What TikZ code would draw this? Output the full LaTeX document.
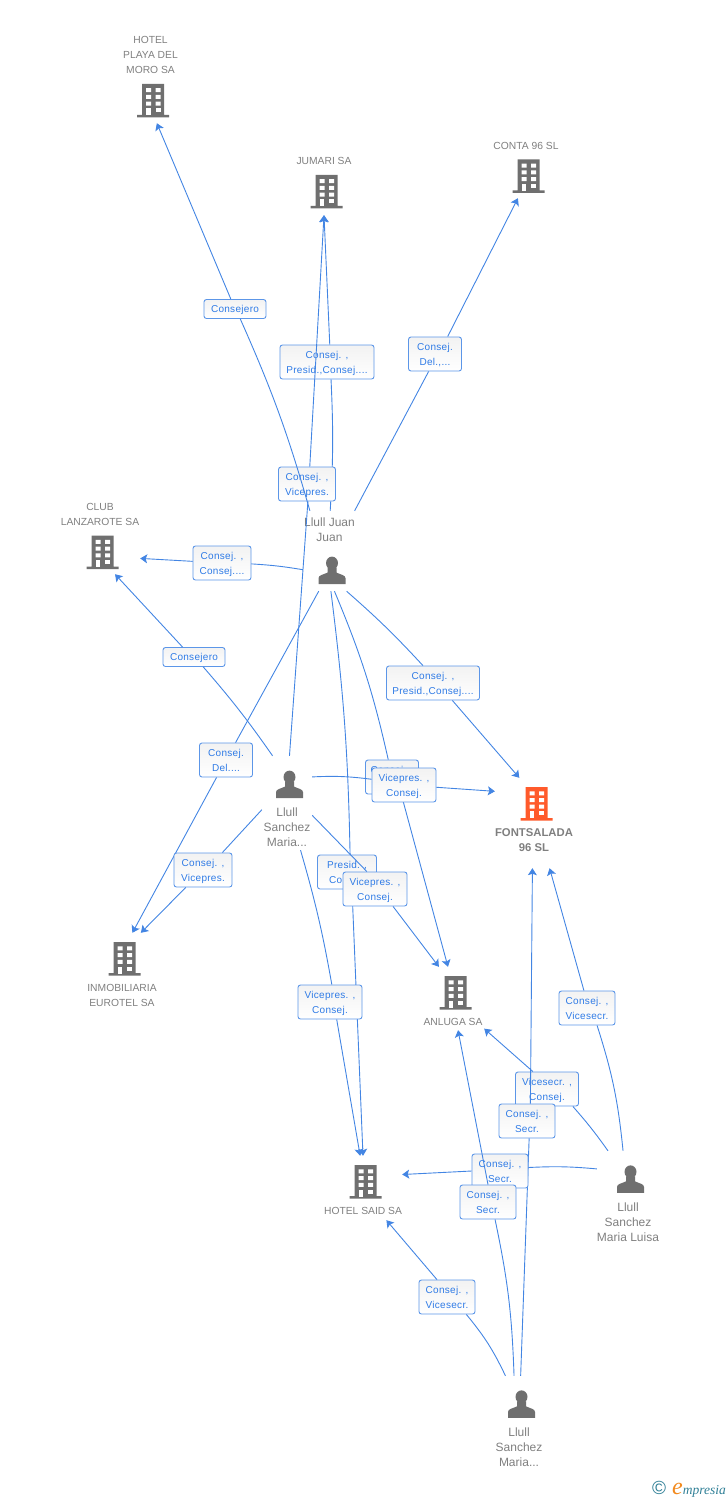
\documentclass[tikz,border=0pt]{standalone}
\usepackage{fontspec}
\setmainfont{Liberation Sans}
\newfontfamily\rolefont{Liberation Sans}[LetterSpace=3]
\newfontfamily\brandfont{Liberation Serif}
\usetikzlibrary{arrows.meta}
\definecolor{linkblue}{HTML}{4385E3}
\definecolor{rolered}{HTML}{5C96E8}
\definecolor{roletext}{HTML}{2F7BE6}
\definecolor{iconbody}{HTML}{6F6F6F}
\definecolor{nametext}{HTML}{7F7F7F}
\definecolor{hotorange}{HTML}{FF5A2B}
\definecolor{brandteal}{HTML}{2F7F96}
\definecolor{brandorange}{HTML}{F28A1E}
% icon for a company: colour, room above, room below
\newcommand{\buildicon}[3]{\tikz[x=1pt,y=-1pt,baseline=0pt]{
	\path (-5,-#2) -- (32,33.5+#3);
	\fill[#1] (5,0) rectangle (27,31) (0,31) rectangle (32,33.5);
	\foreach \wy in {4.3,11,17.7} {
		\fill[white] (9,\wy) rectangle +(5,4) (18.7,\wy) rectangle +(5,4);
	}
	\fill[white] (9,24.4) rectangle +(4.6,7);
	\fill[white] (18.7,24.4) rectangle +(5,4);
}}
% icon for a person: room above
\newcommand{\personicon}[1]{\tikz[x=1pt,y=-1pt,baseline=0pt]{
	\path (-5,-#1) -- (27,27.5);
	\fill[iconbody] (13.5,6.5) ellipse (6 and 6.5);
	\fill[iconbody] (0,27.5) -- (0,21.5) .. controls (0,18.5) and (5,18) .. (9,16) -- (9,11) -- (18,11) -- (18,16) .. controls (22,18) and (27,18.5) .. (27,21.5) -- (27,27.5) -- cycle;
}}
\begin{document}
\begin{tikzpicture}[x=1pt, y=-1pt,
	entity/.style = {rectangle, inner sep=0pt, align=center, text=nametext},
	firm/.style = {entity, font=\fontsize{10.3}{15}\selectfont},
	person/.style = {entity, font=\fontsize{12}{15}\selectfont},
	role/.style = {draw=rolered, line width=0.9pt, rounded corners=2.5pt, top color=black!5, bottom color=white, text=roletext, align=center, inner sep=1pt, minimum height=34, text depth=0pt, font=\rolefont\fontsize{10}{15}\selectfont},
	link/.style = {draw=linkblue, line width=0.9pt},
	tip/.style = {link, -{Stealth[length=7pt, width=9pt, inset=1.5pt]}}]

	\useasboundingbox (0,0) rectangle (728,1500);

	% companies
	\node[firm, minimum width=62, minimum height=90] (playa) at (150.5,78) {HOTEL\\PLAYA DEL\\MORO SA\\[-5pt]\buildicon{iconbody}{0}{2}};
	\node[firm, minimum width=60, minimum height=61] (jumari) at (324,184.5) {JUMARI SA\\[-5pt]\buildicon{iconbody}{0}{3}};
	\node[firm, minimum width=70, minimum height=60] (conta) at (526,168) {CONTA 96 SL\\[-5pt]\buildicon{iconbody}{0}{1}};
	\node[firm, minimum width=80, minimum height=74] (club) at (100,537) {CLUB\\LANZAROTE SA\\[-5pt]\buildicon{iconbody}{0}{1.5}};
	\node[firm, minimum width=74, minimum height=90] (fontsalada) at (534,823) {\buildicon{hotorange}{0}{0}\\[7pt]\textbf{\fontsize{11.3}{15}\selectfont FONTSALADA}\\\textbf{\fontsize{11.3}{15}\selectfont 96 SL}\rule[-7.6pt]{0pt}{1pt}};
	\node[firm, minimum width=68, minimum height=77] (inmobiliaria) at (122,971.5) {\buildicon{iconbody}{6}{0}\\[8pt]INMOBILIARIA\\EUROTEL SA};
	\node[firm, minimum width=62, minimum height=63] (anluga) at (453,998.5) {\buildicon{iconbody}{5}{0}\\[8pt]ANLUGA SA};
	\node[firm, minimum width=78, minimum height=64] (said) at (363,1188) {\buildicon{iconbody}{4}{0}\\[8pt]HOTEL SAID SA};

	% people
	\node[person, minimum width=53, minimum height=80] (juan) at (329.5,551) {Llull Juan\\Juan\\[0pt]\personicon{0}};
	\node[person, minimum width=50, minimum height=94] (sanchez) at (287,803) {\personicon{11.5}\\[9pt]Llull\\Sanchez\\Maria...};
	\node[person, minimum width=62, minimum height=94] (luisa) at (628,1198) {\personicon{11}\\[9pt]Llull\\Sanchez\\Maria Luisa};
	\node[person, minimum width=50, minimum height=94] (maria) at (519,1423) {\personicon{11}\\[9pt]Llull\\Sanchez\\Maria...};

	% links, back to front
	\node[role, minimum width=59] (saidjuan) at (347,872) {Presid. ,\\Consej.};
	\draw[link] (juan.272.1) to[bend left=3] (saidjuan.80);
	\draw[tip] (saidjuan.286.4) -- (said.90);

	\node[role, minimum width=53] (anlugajuan) at (392,777) {Consej. ,\\Consej.};
	\draw[link] (juan.277.8) to[bend left=5] (anlugajuan);
	\draw[tip] (anlugajuan.298) -- (anluga.99);

	\node[role, minimum width=64] (anlugasanchez) at (375,889) {Vicepres. ,\\Consej.};
	\draw[link] (sanchez.334.4) -- (anlugasanchez.115.2);
	\draw[tip] (anlugasanchez.316.6) -- (anluga.114.7);

	\node[role, minimum width=64] (fontsanchez) at (404,785) {Vicepres. ,\\Consej.};
	\draw[link] (sanchez.46.1) to[bend left=5] (fontsanchez);
	\draw[tip] (fontsanchez.356.4) -- (fontsalada.141);

	\node[role, minimum width=64] (saidsanchez) at (330,1002) {Vicepres. ,\\Consej.};
	\draw[link] (sanchez.286.6) to[bend left=3] (saidsanchez.84.3);
	\draw[tip] (saidsanchez.291.5) -- (said.95.4);

	\node[role, minimum width=94] (jumarijuan) at (327,362) {Consej. ,\\Presid.,Consej....};
	\draw[link] (juan.89.3) to[bend right=3] (jumarijuan.283.2);
	\draw[tip] (jumarijuan.81.6) -- (jumari.270);

	\node[role, minimum width=57] (jumarisanchez) at (307,484) {Consej. ,\\Vicepres.};
	\draw[link] (sanchez.87.6) -- (jumarisanchez.273.4);
	\draw[tip] (jumarisanchez.81) -- (jumari.270);

	\node[role, minimum width=62, minimum height=19] (playajuan) at (235,309) {Consejero};
	\draw[link] (juan.116) to[bend right=4] (playajuan.298);
	\draw[tip] (playajuan) -- (playa.278.2);

	\node[role, minimum width=53] (contajuan) at (435,354) {Consej.\\Del.,...};
	\draw[link] (juan.58.5) -- (contajuan.250.6);
	\draw[tip] (contajuan.54.8) -- (conta.255.1);

	\node[role, minimum width=58] (clubjuan) at (222,563) {Consej. ,\\Consej....};
	\draw[link] (juan.215.6) to[bend right=3] (clubjuan);
	\draw[tip] (clubjuan) -- (club.332.3);

	\node[role, minimum width=62, minimum height=19] (clubsanchez) at (194,657) {Consejero};
	\draw[link] (sanchez.107.7) to[bend right=3] (clubsanchez.313.5);
	\draw[tip] (clubsanchez.139.2) -- (club.292.1);

	\node[role, minimum width=93] (fontjuan) at (433,683) {Consej. ,\\Presid.,Consej....};
	\draw[link] (juan.293.6) to[bend left=3] (fontjuan.120.5);
	\draw[tip] (fontjuan.318.2) -- (fontsalada.108.4);

	\node[role, minimum width=53] (inmojuan) at (226,760) {Consej.\\Del....};
	\draw[link] (juan.255.3) -- (inmojuan);
	\draw[tip] (inmojuan) -- (inmobiliaria.75.4);

	\node[role, minimum width=58] (inmosanchez) at (203,870) {Consej. ,\\Vicepres.};
	\draw[link] (sanchez.195.6) -- (inmosanchez.42.3);
	\draw[tip] (inmosanchez) -- (inmobiliaria.64.9);

	\node[role, minimum width=56] (fontluisa) at (587,1008) {Consej. ,\\Vicesecr.};
	\draw[link] (luisa.96.1) to[bend right=6] (fontluisa.300.5);
	\draw[tip] (fontluisa.100) -- (fontsalada.289.6);

	\node[role, minimum width=63] (anlugaluisa) at (547,1089) {Vicesecr. ,\\Consej.};
	\draw[link] (luisa.113.1) to[bend right=3] (anlugaluisa.326.5);
	\draw[tip] (anlugaluisa.129.5) -- (anluga.316.4);

	\node[role, minimum width=56] (fontmaria) at (527,1121) {Consej. ,\\Secr.};
	\draw[link] (maria.88.8) -- (fontmaria.277.7);
	\draw[tip] (fontmaria.79) -- (fontsalada.268.7);

	\node[role, minimum width=56] (saidluisa) at (500,1171) {Consej. ,\\Secr.};
	\draw[link] (luisa.137.9) to[bend right=4] (saidluisa.7.5);
	\draw[tip] (saidluisa.180) -- (said.19.7);

	\node[role, minimum width=56] (anlugamaria) at (488,1202) {Consej. ,\\Secr.};
	\draw[link] (maria.96.1) to[bend right=5] (anlugamaria.292.4);
	\draw[tip] (anlugamaria.90) -- (anluga.279);

	\node[role, minimum width=56] (saidmaria) at (447,1297) {Consej. ,\\Vicesecr.};
	\draw[link] (maria.106.6) to[bend right=7] (saidmaria.318.2);
	\draw[tip] (saidmaria.120.5) -- (said.306.9);

	% brand
	\node[inner sep=0pt, anchor=east] (brand) at (726,1489) {\textcolor{brandteal}{\fontsize{19}{19}\selectfont\char"00A9}\hspace{6pt}{\brandfont\itshape\textcolor{brandorange}{\fontsize{24}{24}\selectfont e}\textcolor{brandteal}{\fontsize{13.5}{14}\selectfont mpresia}}};
\end{tikzpicture}
\end{document}
